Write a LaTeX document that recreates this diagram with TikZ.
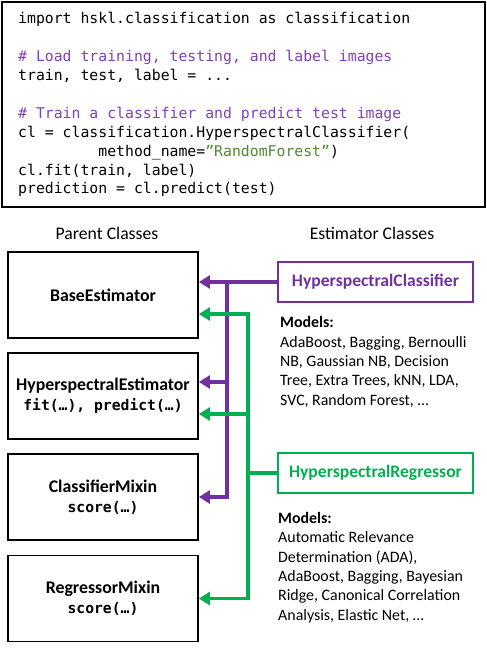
\documentclass[tikz,border=0pt]{standalone}
\usepackage{fontspec}
\setmainfont{Carlito}
\setmonofont{DejaVu Sans Mono}
\usepackage{tikz}
\usetikzlibrary{positioning,arrows.meta,calc}
\definecolor{clspurple}{HTML}{7030A0}
\definecolor{regegreen}{HTML}{00B050}
\definecolor{cmtpurple}{HTML}{8040B8}
\definecolor{strgreen}{HTML}{4F8A2E}
\tikzset{>={Triangle[length=11bp,width=13bp]}}
\tikzstyle{signal}=[->,line width=3.5bp]
\tikzstyle{clssignal}=[signal,draw=clspurple]
\tikzstyle{regsignal}=[signal,draw=regegreen]
\tikzstyle{codebox}=[draw=black,line width=1.3bp,minimum width=483bp,minimum height=205bp,inner sep=0pt]
\tikzstyle{codetext}=[align=left,inner sep=0pt,font=\fontsize{14.8bp}{18.9bp}\selectfont\ttfamily]
\tikzstyle{parentbox}=[draw=black,line width=1.8bp,minimum width=190bp,minimum height=86bp,
    inner sep=0pt,align=center,font=\fontsize{17.8bp}{20bp}\selectfont\bfseries]
\tikzstyle{estbox}=[line width=1.8bp,minimum width=195bp,minimum height=40bp,inner sep=0pt,
    font=\fontsize{17.6bp}{19bp}\selectfont\bfseries]
\tikzstyle{models}=[align=left,inner sep=0pt,font=\fontsize{15.9bp}{19.3bp}\selectfont]
\tikzstyle{header}=[font=\fontsize{17.7bp}{19bp}\selectfont]
\newcommand{\monoarg}{\ttfamily\fontsize{14.7bp}{20bp}\selectfont}

\begin{document}
\begin{tikzpicture}[x=1bp,y=-1bp]
    \useasboundingbox (0,0) rectangle (487,648);

    % code listing
    \node[codebox] (listing) at (243.5,104.5) {};
    \node[codetext, anchor=base west] (code) at (18,194)
        {import hskl.classification as classification\\
         \mbox{}\\
         \textcolor{cmtpurple}{\# Load training, testing, and label images}\\
         train, test, label = ...\\
         \mbox{}\\
         \textcolor{cmtpurple}{\# Train a classifier and predict test image}\\
         cl = classification.HyperspectralClassifier(\\
         \phantom{xxxxxxxxx}method\_name=\textcolor{strgreen}{”RandomForest”})\\
         cl.fit(train, label)\\
         prediction = cl.predict(test)};

    % headers
    \node[header] (parenthead) at (107,233) {Parent Classes};
    \node[header] (esthead) at (372,233) {Estimator Classes};

    % parent classes
    \node[parentbox] (base) at (103,295) {BaseEstimator};
    \node[parentbox] (hest) at (103,396)
        {HyperspectralEstimator\\{\monoarg fit(…), predict(…)}};
    \node[parentbox] (cmix) at (103,497)
        {ClassifierMixin\\{\monoarg score(…)}};
    \node[parentbox] (rmix) at (103,598.5)
        {RegressorMixin\\{\monoarg score(…)}};

    % estimator classes
    \node[estbox, draw=clspurple, text=clspurple] (hc) at (375.5,282) {HyperspectralClassifier};
    \node[estbox, draw=regegreen, text=regegreen] (hr) at (375.5,473) {HyperspectralRegressor};

    % model lists
    \node[models, anchor=base west] (hcmodels) at (280,405)
        {\textbf{Models:}\\
         AdaBoost, Bagging, Bernoulli\\
         NB, Gaussian NB, Decision\\
         Tree, Extra Trees, kNN, LDA,\\
         SVC, Random Forest, …};
    \node[models, anchor=base west] (hrmodels) at (278,620)
        {\textbf{Models:}\\
         Automatic Relevance\\
         Determination (ADA),\\
         AdaBoost, Bagging, Bayesian\\
         Ridge, Canonical Correlation\\
         Analysis, Elastic Net, …};

    % trunks
    \coordinate (ctop) at (227,282);
    \coordinate (gtop) at (248,314);
    \coordinate (gbot) at (248,598.5);

    % arrows
    \draw[clssignal] (hc.west) -- (base.east |- hc.west);
    \draw[clssignal] (ctop) |- (cmix.east);
    \draw[clssignal] ($(ctop |- hest.east)+(0,-14)$) -- ($(hest.east)+(0,-14)$);
    \draw[regsignal, <->] ($(base.east)+(0,19)$) -| (gbot) -- (rmix.east);
    \draw[regsignal] ($(gtop |- hest.east)+(0,18)$) -- ($(hest.east)+(0,18)$);
    \draw[regsignal, -] (hr.west) -- (hr.west -| gtop);

\end{tikzpicture}
\end{document}
